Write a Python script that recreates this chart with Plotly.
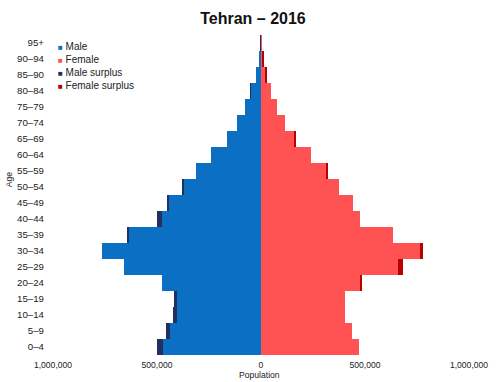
import plotly.graph_objects as go

age_groups = ["0–4", "5–9", "10–14", "15–19", "20–24", "25–29", "30–34", "35–39",
              "40–44", "45–49", "50–54", "55–59", "60–64", "65–69", "70–74",
              "75–79", "80–84", "85–90", "90–94", "95+"]
male = [498000, 458000, 422000, 420000, 474000, 657000, 763000, 645000,
        501000, 452000, 379000, 311000, 242000, 163000, 115000,
        79000, 52000, 22000, 9000, 3000]
female = [472000, 437000, 403000, 404000, 485000, 681000, 781000, 634000,
          475000, 441000, 374000, 324000, 242000, 168000, 115000,
          79000, 49000, 27000, 13000, 2000]
x_tick_vals = [-1000000, -500000, 0, 500000, 1000000]
x_tick_text = ["1,000,000", "500,000", "0", "500,000", "1,000,000"]

C_MALE = "#0b6fc4"
C_FEMALE = "#ff5353"
C_MALE_S = "#22305e"
C_FEMALE_S = "#b80000"

common = [min(m, f) for m, f in zip(male, female)]
male_surplus = [max(m - f, 0) for m, f in zip(male, female)]
female_surplus = [max(f - m, 0) for m, f in zip(male, female)]

fig = go.Figure()
fig.add_trace(go.Bar(y=age_groups, x=[-v for v in common], orientation="h",
                     name="Male", marker=dict(color=C_MALE, line=dict(width=0))))
fig.add_trace(go.Bar(y=age_groups, x=[-v for v in male_surplus], orientation="h",
                     name="Male surplus", marker=dict(color=C_MALE_S, line=dict(width=0))))
fig.add_trace(go.Bar(y=age_groups, x=common, orientation="h",
                     name="Female", marker=dict(color=C_FEMALE, line=dict(width=0))))
fig.add_trace(go.Bar(y=age_groups, x=female_surplus, orientation="h",
                     name="Female surplus", marker=dict(color=C_FEMALE_S, line=dict(width=0))))

W, H = 500, 382
L, R, T, B = 53, 25, 35, 26
pw = W - L - R
ph = H - T - B

FONT = "Liberation Sans, Arial, sans-serif"
legend_items = [("Male", C_MALE), ("Female", C_FEMALE),
                ("Male surplus", C_MALE_S), ("Female surplus", C_FEMALE_S)]
annotations = []
for i, (name, col) in enumerate(legend_items):
    ypix = 46.5 + i * 13
    annotations.append(dict(
        xref="paper", yref="paper",
        x=(56 - L) / pw, y=1 - (ypix - T) / ph,
        xanchor="left", yanchor="middle", showarrow=False,
        text=f"<span style='color:{col};font-size:8px'>■</span> {name}",
        font=dict(family=FONT, size=10, color="#222"),
    ))
annotations.append(dict(xref="paper", yref="paper", x=(262 - L) / pw, y=1 - (376 - T) / ph,
                        xanchor="center", yanchor="middle", showarrow=False, text="Population",
                        font=dict(family=FONT, size=8.6, color="#222")))
annotations.append(dict(xref="paper", yref="paper", x=(8 - L) / pw, y=1 - (180 - T) / ph,
                        xanchor="center", yanchor="middle", showarrow=False, text="Age", textangle=-90,
                        font=dict(family=FONT, size=8.6, color="#222")))

fig.update_layout(
    width=W, height=H,
    margin=dict(l=L, r=R, t=T, b=B, pad=0),
    barmode="relative", bargap=0,
    showlegend=False,
    paper_bgcolor="white", plot_bgcolor="white",
    font=dict(family=FONT, color="#222"),
    title=dict(text="<b>Tehran – 2016</b>", x=253 / W, xanchor="center",
               y=1 - 18 / H, yanchor="middle",
               font=dict(family=FONT, size=16, color="#111")),
    xaxis=dict(range=[-1000000, 1000000], tickvals=x_tick_vals, ticktext=x_tick_text,
               showgrid=False, zeroline=False, showline=False, ticks="",
               tickfont=dict(size=8.6, color="#222"), ticklabelstandoff=3,
               fixedrange=True),
    yaxis=dict(categoryorder="array", categoryarray=age_groups,
               showgrid=False, zeroline=False, showline=False, ticks="",
               tickfont=dict(size=9.7, color="#222"), ticklabelstandoff=8,
               range=[-0.5, 19.5], fixedrange=True),
    annotations=annotations,
)

fig.write_html("out.html", config={"displayModeBar": False},
               post_script="document.body.style.margin='0';document.body.style.padding='0';document.body.style.overflow='hidden';")
